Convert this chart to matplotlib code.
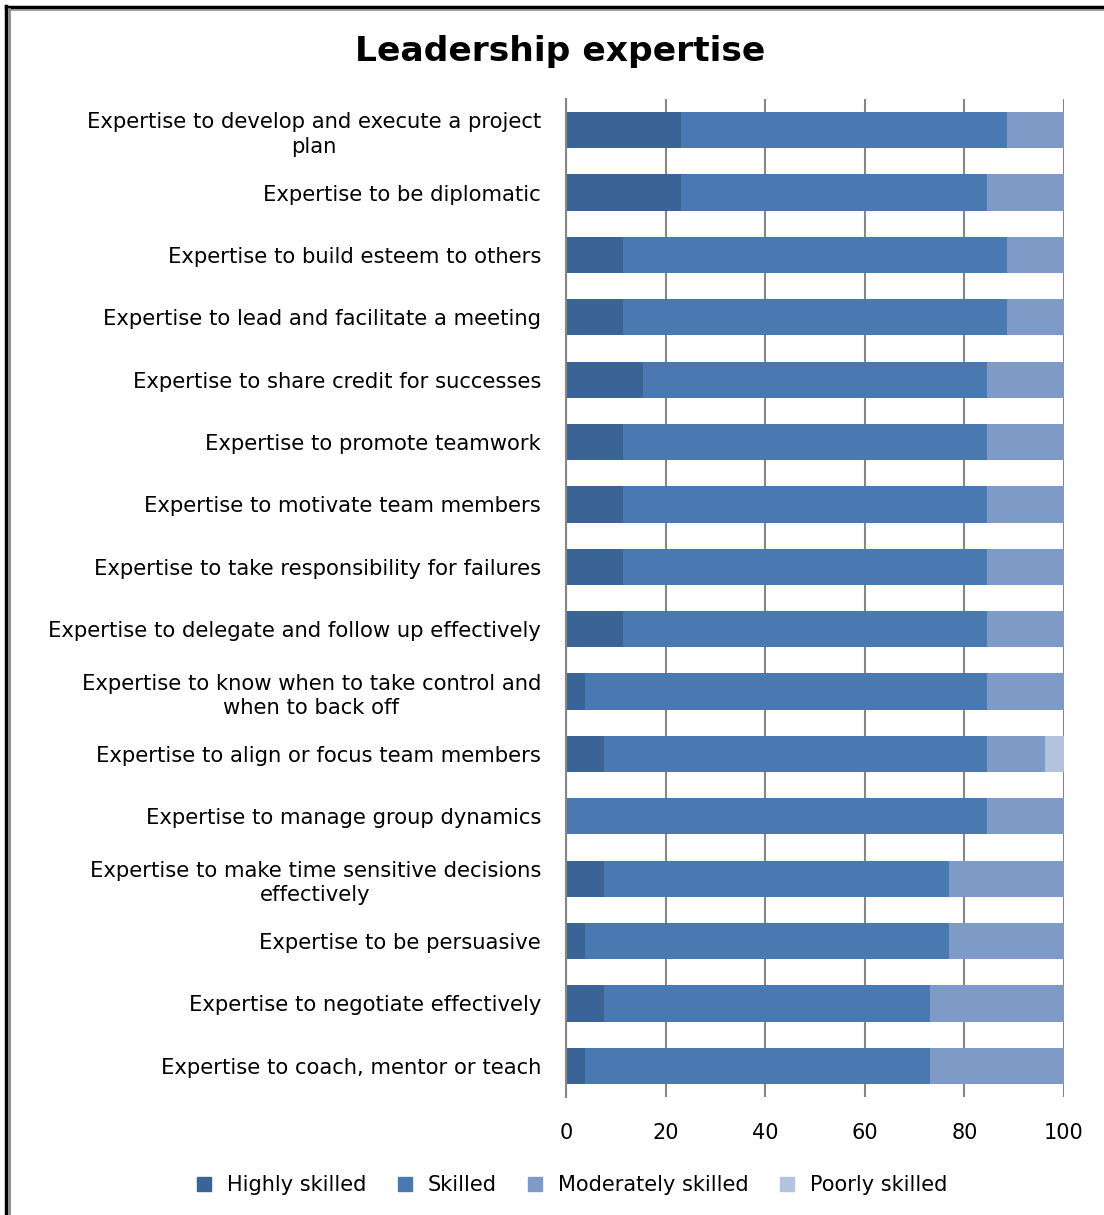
import numpy as np
import matplotlib.pyplot as plt
from matplotlib.lines import Line2D

# Share of respondents (n = 26) per skill rating, in percent
categories = [
    "Expertise to develop and execute a project\nplan",
    "Expertise to be diplomatic",
    "Expertise to build esteem to others",
    "Expertise to lead and facilitate a meeting",
    "Expertise to share credit for successes",
    "Expertise to promote teamwork",
    "Expertise to motivate team members",
    "Expertise to take responsibility for failures",
    "Expertise to delegate and follow up effectively",
    "Expertise to know when to take control and\nwhen to back off",
    "Expertise to align or focus team members",
    "Expertise to manage group dynamics",
    "Expertise to make time sensitive decisions\neffectively",
    "Expertise to be persuasive",
    "Expertise to negotiate effectively",
    "Expertise to coach, mentor or teach",
]
highly = [23.08, 23.08, 11.54, 11.54, 15.38, 11.54, 11.54, 11.54, 11.54, 3.85, 7.69, 0.0, 7.69, 3.85, 7.69, 3.85]
skilled = [65.38, 61.54, 76.92, 76.92, 69.23, 73.08, 73.08, 73.08, 73.08, 80.77, 76.92, 84.62, 69.23, 73.08, 65.38, 69.23]
moderate = [11.54, 15.38, 11.54, 11.54, 15.38, 15.38, 15.38, 15.38, 15.38, 15.38, 11.54, 15.38, 23.08, 23.08, 26.92, 26.92]
poorly = [0.0, 0.0, 0.0, 0.0, 0.0, 0.0, 0.0, 0.0, 0.0, 0.0, 3.85, 0.0, 0.0, 0.0, 0.0, 0.0]

series = [
    ("Highly skilled", highly, "#3b6496"),
    ("Skilled", skilled, "#4a78b0"),
    ("Moderately skilled", moderate, "#7e9bc7"),
    ("Poorly skilled", poorly, "#b3c2dd"),
]

plt.rcParams["font.family"] = ["DejaVu Sans"]

fig = plt.figure(figsize=(11.04, 12.15), dpi=100)
ax = fig.add_axes([566 / 1104, 1 - 1097 / 1215, 498 / 1104, 998 / 1215])

y = np.arange(len(categories))
left = np.zeros(len(categories))
for name, vals, color in series:
    vals = np.array(vals)
    ax.barh(y, vals, left=left, height=0.58, color=color, label=name, zorder=2)
    left += vals

ax.set_xlim(0, 100)
ax.set_ylim(len(categories) - 0.5, -0.5)
ax.set_xticks([0, 20, 40, 60, 80, 100])
ax.set_xticklabels(["0", "20", "40", "60", "80", "100"], fontsize=15)
ax.set_yticks(y)
ax.set_yticklabels(categories, fontsize=15.2, multialignment="center", linespacing=1.3)
ax.tick_params(axis="both", length=0, colors="#000000")
ax.tick_params(axis="x", pad=19)
ax.tick_params(axis="y", pad=18)
ax.grid(axis="x", color="#868686", linewidth=1.5, zorder=1)
for s in ["top", "right", "bottom"]:
    ax.spines[s].set_visible(False)
ax.spines["left"].set_color("#868686")
ax.spines["left"].set_linewidth(1.5)

fig.text(0.507, 1 - 51 / 1215, "Leadership expertise", ha="center", va="center",
         fontsize=24.8, fontweight="bold")

handles = [Line2D([], [], marker="s", linestyle="", markersize=10,
                  markerfacecolor=c, markeredgecolor=c) for _, _, c in series]
fig.legend(handles, [n for n, _, _ in series], loc="center",
           bbox_to_anchor=(0.512, 1 - 1185 / 1215), ncol=4, frameon=False,
           fontsize=15, handletextpad=0.1, columnspacing=0.85)

# chart frame: black outer edge with grey inner line on top and left
fig.add_artist(Line2D([6 / 1104, 6 / 1104], [0, 1 - 6 / 1215], transform=fig.transFigure,
                      color="black", linewidth=2.5))
fig.add_artist(Line2D([6 / 1104, 1], [1 - 7 / 1215, 1 - 7 / 1215], transform=fig.transFigure,
                      color="black", linewidth=2.5))
fig.add_artist(Line2D([9 / 1104, 9 / 1104], [0, 1 - 9 / 1215], transform=fig.transFigure,
                      color="#8c8c8c", linewidth=2))
fig.add_artist(Line2D([9 / 1104, 1], [1 - 9.5 / 1215, 1 - 9.5 / 1215], transform=fig.transFigure,
                      color="#8c8c8c", linewidth=1.2))

fig.savefig("out.png", dpi=100)
